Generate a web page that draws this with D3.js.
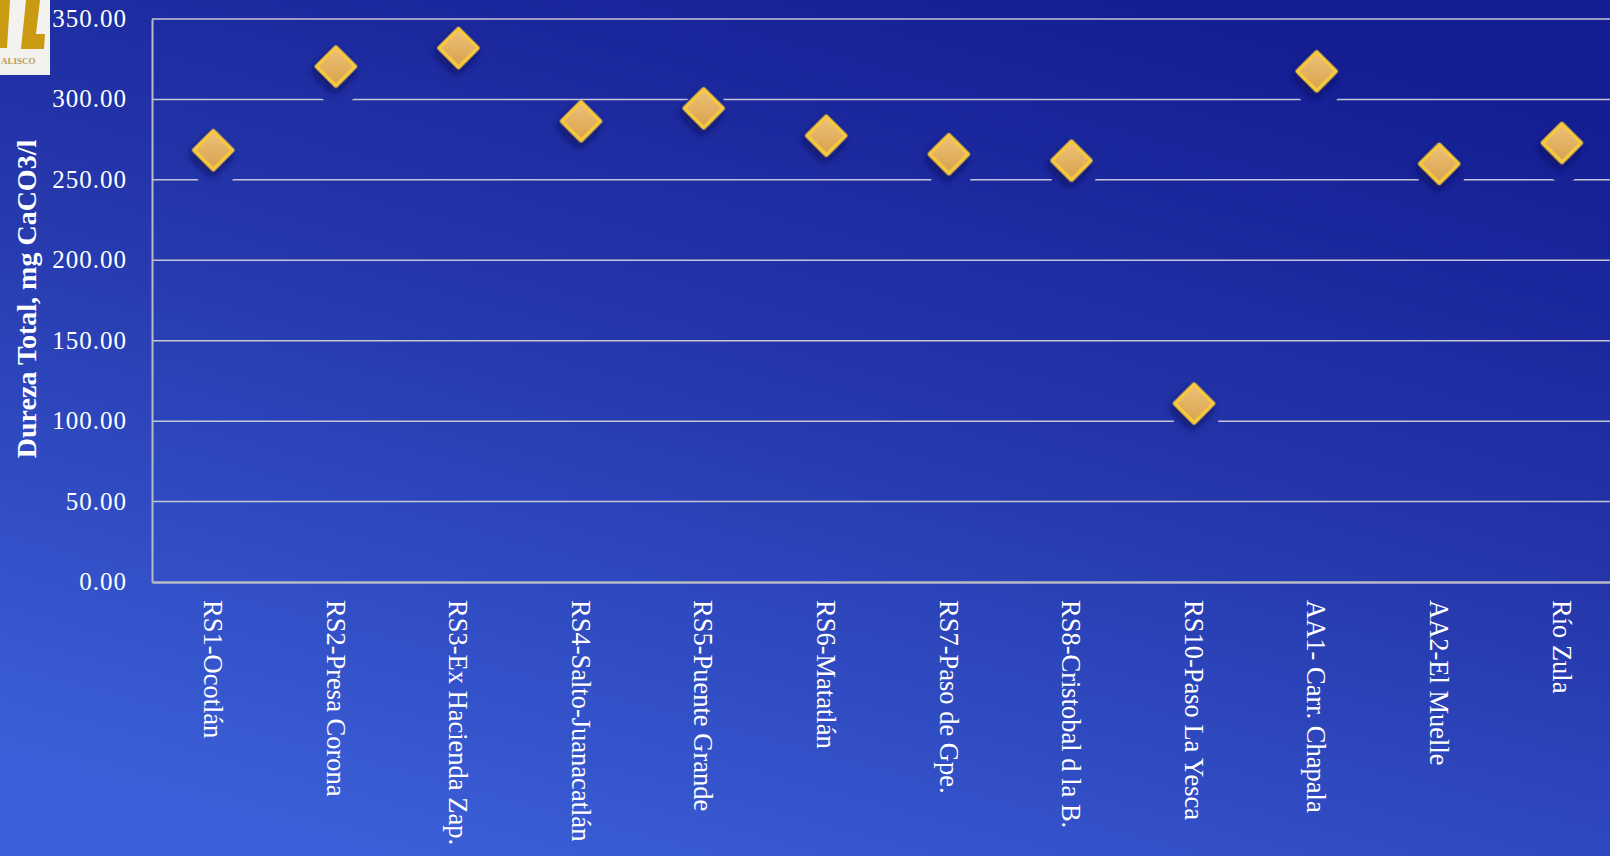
<!DOCTYPE html>
<html><head><meta charset="utf-8">
<script src="https://cdn.jsdelivr.net/npm/d3@7"></script>
<style>
html,body{margin:0;padding:0;overflow:hidden;background:#2a40b8;}
svg{display:block;}
text{font-family:"Liberation Serif","Times New Roman",serif;font-variant-numeric:oldstyle-nums;}
</style></head>
<body>
<svg id="chart" width="1610" height="856"></svg>
<script>
const categories = ["RS1-Ocotlán","RS2-Presa Corona","RS3-Ex Hacienda Zap.","RS4-Salto-Juanacatlán","RS5-Puente Grande","RS6-Matatlán","RS7-Paso de Gpe.","RS8-Cristobal d la B.","RS10-Paso La Yesca","AA1- Carr. Chapala","AA2-El Muelle","Río Zula"];
const dureza = [268.5, 320.5, 332, 286.5, 294.5, 277.5, 266, 262, 111, 317.5, 260, 273];
const yTicks = [0, 50, 100, 150, 200, 250, 300, 350];
const yTitle = "Dureza Total, mg CaCO3/l";

(function(){
const svg = d3.select("#chart");
const W = 1610, H = 856;
const mLeft = 152, mTop = 19, mBottom = 582, mRight = 152 + 12 * 122.6;

const defs = svg.append("defs");
const bg = defs.append("linearGradient").attr("id","bg").attr("x1","0.75").attr("y1","0").attr("x2","0.25").attr("y2","1");
bg.append("stop").attr("offset","0").attr("stop-color","#141d92");
bg.append("stop").attr("offset","0.45").attr("stop-color","#2436aa");
bg.append("stop").attr("offset","1").attr("stop-color","#3b5fd8");

const dg = defs.append("linearGradient").attr("id","dia").attr("x1","0").attr("y1","0").attr("x2","1").attr("y2","1");
dg.append("stop").attr("offset","0").attr("stop-color","#eec27a");
dg.append("stop").attr("offset","1").attr("stop-color","#d7a24c");

const sh = defs.append("filter").attr("id","shadow").attr("x","-60%").attr("y","-60%").attr("width","220%").attr("height","220%");
sh.append("feDropShadow").attr("dx",2).attr("dy",5).attr("stdDeviation",4).attr("flood-color","#0a1050").attr("flood-opacity",0.8);

svg.append("rect").attr("width",W).attr("height",H).attr("fill","url(#bg)");

const x = d3.scaleBand().domain(categories).range([mLeft, mRight]).padding(0);
const y = d3.scaleLinear().domain([0, 350]).range([mBottom, mTop]);
const cx = i => x(categories[i]) + x.bandwidth() / 2;

// mask: marker shadows clear the gridlines beneath them
const mask = defs.append("mask").attr("id","gridMask").attr("maskUnits","userSpaceOnUse")
  .attr("x",0).attr("y",0).attr("width",W).attr("height",H);
mask.append("rect").attr("width",W).attr("height",H).attr("fill","#fff");
mask.selectAll("ellipse").data(dureza).join("ellipse")
  .attr("cx",(d,i)=>cx(i)+2).attr("cy",d=>y(d)+10).attr("rx",23).attr("ry",30).attr("fill","#000");

// gridlines
svg.append("g").attr("mask","url(#gridMask)").selectAll("line").data(yTicks.filter(d => d > 0)).join("line")
  .attr("x1", mLeft).attr("x2", mRight)
  .attr("y1", d => y(d)).attr("y2", d => y(d))
  .attr("stroke", "#c4c6d4").attr("stroke-width", 1.5);

// axes
const yAxis = svg.append("g").attr("transform", `translate(${mLeft},0)`)
  .call(d3.axisLeft(y).tickValues(yTicks).tickFormat(d3.format(".2f")).tickSize(0).tickPadding(25));
yAxis.select(".domain").attr("stroke","#b8bac8").attr("stroke-width",2);
yAxis.selectAll("text").attr("fill","#ffffff").attr("font-size",25).attr("letter-spacing","1px")
  .attr("font-family",'"Liberation Serif",serif').attr("dy","0.3em");

const xAxis = svg.append("g").attr("transform", `translate(0,${mBottom})`)
  .call(d3.axisBottom(x).tickSize(0).tickPadding(0));
xAxis.select(".domain").attr("stroke","#b8bac8").attr("stroke-width",2.5);
xAxis.selectAll("text")
  .attr("fill","#ffffff").attr("font-size",26.5).attr("font-family",'"Liberation Serif",serif')
  .attr("text-anchor","start").attr("dy","0.35em")
  .attr("transform","translate(0,18) rotate(90)")
  .attr("x",0).attr("y",0);

// y title
svg.append("text").attr("transform","translate(36,299) rotate(-90)")
  .attr("text-anchor","middle").attr("fill","#ffffff").attr("font-weight","bold")
  .attr("font-size",28).text(yTitle);

// points
svg.append("g").selectAll("path").data(dureza).join("path")
  .attr("d", d3.symbol().type(d3.symbolSquare).size(760))
  .attr("transform", (d,i) => `translate(${cx(i)},${y(d)}) rotate(45)`)
  .attr("fill","url(#dia)").attr("stroke","#f7ca3a").attr("stroke-width",3.5)
  .attr("stroke-linejoin","round").attr("filter","url(#shadow)");

// logo fragment
const logo = svg.append("g");
logo.append("rect").attr("x",0).attr("y",0).attr("width",50).attr("height",75).attr("fill","#f4f2ee");
logo.append("path").attr("d","M0,0 L10,0 L7,48 L0,48 Z").attr("fill","#c99a12");
logo.append("path").attr("d","M26,0 L40,0 L36,34 L45,34 L44,49 L21,49 Z").attr("fill","#c99a12");
logo.append("text").attr("x",1).attr("y",64).attr("font-size",9).attr("font-weight","bold")
  .attr("font-family",'"DejaVu Sans",sans-serif').attr("fill","#b89a5a").text("ALISCO");
})();
</script>
</body></html>
